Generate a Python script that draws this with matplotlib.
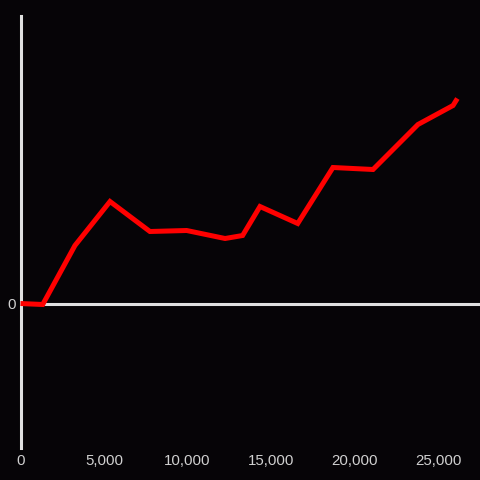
import matplotlib
matplotlib.use("Agg")
import matplotlib.pyplot as plt

# Series
x_vals = [0, 1330, 3260, 5360, 7750, 9950, 12250, 13300, 14340, 16600,
          18710, 21110, 23800, 25900, 26160]
y_vals = [0, -1, 58, 102, 72, 73, 65, 68, 97, 80, 136, 134, 179, 198, 205]

x_ticks = [0, 5000, 10000, 15000, 20000, 25000]
x_tick_labels = ["0", "5,000", "10,000", "15,000", "20,000", "25,000"]

bg = "#060407"
axis_col = "#e0e0e0"
label_col = "#d0d0d0"

plt.rcParams["font.family"] = ["Liberation Sans", "DejaVu Sans"]

fig = plt.figure(figsize=(4.8, 4.8), dpi=100, facecolor=bg)
ax = fig.add_axes([20.5 / 480, 32 / 480, (480 - 20.5) / 480, 432 / 480])
ax.set_facecolor(bg)

ax.set_xlim(0, 27515)
ax.set_ylim(-144.5, 287.5)

for s in ["top", "right", "bottom"]:
    ax.spines[s].set_visible(False)
ax.spines["left"].set_color(axis_col)
ax.spines["left"].set_linewidth(2.2)

ax.axhline(0, color=axis_col, linewidth=2.2, zorder=2)

ax.plot(x_vals, y_vals, color="#ff0000", linewidth=3.6,
        solid_joinstyle="miter", solid_capstyle="butt", zorder=3, clip_on=False)

ax.set_xticks(x_ticks)
ax.set_xticklabels(x_tick_labels)
ax.set_yticks([0])
ax.set_yticklabels(["0"])
ax.tick_params(axis="x", length=0, pad=4, labelsize=10.8, labelcolor=label_col)
ax.tick_params(axis="y", length=0, pad=3.6, labelsize=10.8, labelcolor=label_col)

fig.savefig("out.png", dpi=100, facecolor=bg)
